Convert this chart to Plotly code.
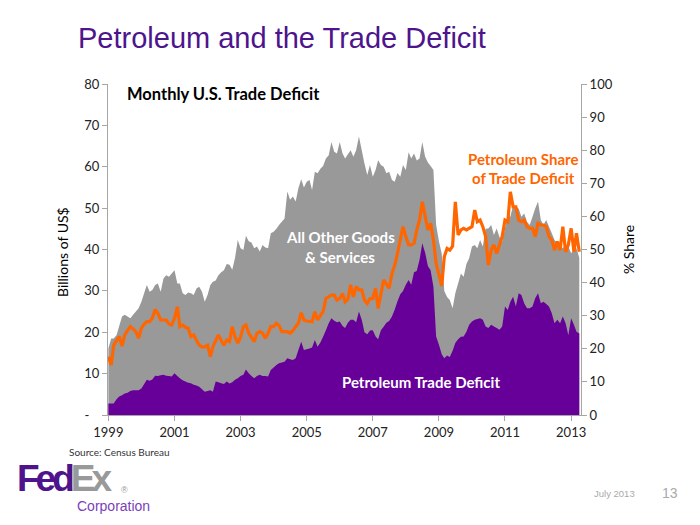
import plotly.graph_objects as go
import pandas as pd

# ---------------- data ----------------
months = pd.date_range("1999-01-01", periods=172, freq="MS")

total_deficit = [
    16.1, 18.5, 18.5, 19.3, 21.5, 23.8, 24.2, 23.8, 23.4, 24.2, 25.0, 25.8,   # 1999
    27.4, 29.5, 31.4, 29.8, 30.2, 31.4, 31.8, 29.8, 33.0, 33.8, 33.4, 34.2,   # 2000
    35.0, 31.8, 31.8, 29.4, 29.0, 29.6, 29.4, 29.0, 30.6, 31.0, 29.8, 27.4,   # 2001
    29.0, 31.4, 32.2, 32.5, 33.8, 34.5, 35.0, 36.5, 36.3, 35.1, 38.0, 42.3,   # 2002
    40.3, 39.9, 43.3, 42.0, 41.7, 40.3, 40.7, 39.5, 41.1, 40.5, 40.3, 43.9,   # 2003
    44.3, 45.0, 45.9, 46.7, 47.5, 54.0, 52.0, 52.8, 51.6, 54.8, 57.0, 55.0,   # 2004
    56.4, 56.8, 54.4, 58.8, 58.4, 59.5, 60.2, 62.0, 62.8, 66.0, 63.6, 63.2,   # 2005
    66.0, 63.2, 62.0, 63.0, 64.0, 62.4, 64.0, 67.3, 64.0, 60.8, 58.0, 60.4,   # 2006
    57.6, 59.2, 61.6, 60.4, 60.0, 58.4, 58.8, 56.8, 56.4, 58.5, 57.6, 60.4,   # 2007
    59.2, 63.5, 62.0, 63.2, 61.5, 62.0, 66.0, 62.5, 61.0, 60.2, 59.2, 46.0,   # 2008
    42.0, 39.0, 30.0, 28.5, 27.8, 25.8, 29.4, 31.8, 34.2, 33.4, 36.5, 37.9,   # 2009
    40.7, 41.1, 40.3, 42.3, 40.7, 45.0, 45.1, 45.9, 43.5, 45.1, 43.0, 41.9,   # 2010
    45.1, 48.3, 47.9, 50.7, 50.3, 49.9, 47.9, 48.7, 46.7, 45.9, 47.9, 49.9,   # 2011
    51.6, 47.1, 45.9, 47.1, 45.5, 43.9, 42.3, 41.5, 41.1, 40.3, 41.1, 40.7,   # 2012
    39.1, 40.0, 40.3, 38.0,                                                   # 2013
]

petroleum_deficit = [
    2.8, 2.8, 2.8, 3.8, 4.5, 4.8, 5.2, 5.4, 5.8, 6.0, 6.0, 6.0,               # 1999
    6.4, 7.5, 8.5, 8.3, 8.6, 9.5, 9.4, 9.6, 9.7, 9.5, 9.4, 9.3,               # 2000
    10.1, 9.4, 8.9, 8.4, 8.1, 7.8, 7.7, 7.3, 7.1, 6.8, 6.2, 5.6,              # 2001
    5.8, 6.0, 5.6, 8.1, 7.9, 7.7, 7.5, 8.1, 7.6, 7.9, 8.5, 8.9,               # 2002
    9.4, 9.7, 11.0, 10.1, 9.4, 8.9, 9.4, 9.7, 9.4, 9.4, 9.3, 10.9,            # 2003
    11.5, 12.1, 12.5, 12.7, 12.9, 13.7, 13.5, 13.3, 13.7, 15.7, 17.7, 15.7,   # 2004
    15.9, 16.1, 16.3, 18.1, 16.5, 17.5, 18.9, 20.5, 22.2, 23.4, 22.8, 22.4,   # 2005
    22.6, 21.5, 21.0, 22.3, 23.0, 23.0, 22.4, 25.0, 23.0, 20.0, 19.5, 20.4,   # 2006
    20.5, 19.0, 18.3, 20.5, 21.3, 22.3, 22.7, 23.8, 25.5, 27.5, 29.2, 30.0,   # 2007
    31.5, 32.6, 31.5, 34.5, 34.8, 37.5, 41.5, 39.3, 36.0, 35.0, 31.0, 19.0,   # 2008
    17.0, 14.7, 13.7, 14.4, 14.0, 15.5, 17.4, 18.3, 18.9, 19.0, 20.1, 21.8,   # 2009
    22.6, 23.0, 23.2, 23.4, 23.0, 21.4, 21.0, 21.8, 21.4, 21.0, 20.6, 21.4,   # 2010
    26.2, 25.4, 27.4, 28.6, 26.2, 29.4, 29.0, 27.0, 25.8, 25.8, 26.2, 28.2,   # 2011
    29.4, 27.0, 27.4, 26.8, 26.2, 24.6, 22.2, 23.0, 22.2, 23.8, 22.2, 19.3,   # 2012
    23.4, 21.8, 20.1, 19.7,                                                   # 2013
]

petroleum_share = [
    17.6, 15.1, 21.1, 22.5, 23.7, 20.8, 24.2, 25.5, 26.7, 26.0, 25.2, 23.2,   # 1999
    26.2, 27.5, 28.2, 28.2, 29.2, 31.9, 30.7, 28.7, 28.7, 28.7, 27.5, 27.2,   # 2000
    29.2, 32.7, 26.7, 27.2, 26.5, 26.2, 23.7, 24.2, 22.5, 21.1, 20.6, 20.6,   # 2001
    21.1, 17.6, 20.6, 22.5, 24.2, 22.5, 21.1, 22.6, 22.2, 26.7, 23.6, 21.7,   # 2002
    23.5, 26.7, 27.2, 24.7, 23.5, 22.2, 24.7, 25.2, 24.7, 23.2, 24.7, 26.7,   # 2003
    26.7, 27.7, 27.0, 25.2, 25.2, 25.2, 24.7, 25.5, 26.7, 27.7, 30.9, 28.7,   # 2004
    28.4, 28.2, 28.2, 31.2, 28.7, 30.0, 31.2, 35.2, 35.7, 36.2, 36.2, 34.7,   # 2005
    35.2, 36.7, 34.2, 35.0, 39.3, 35.7, 38.8, 37.8, 37.8, 34.7, 33.7, 35.2,   # 2006
    35.2, 38.3, 32.2, 36.7, 40.8, 39.5, 38.3, 42.8, 45.3, 48.8, 52.9, 56.9,   # 2007
    53.9, 51.4, 51.4, 51.9, 55.9, 58.9, 64.4, 60.4, 55.9, 57.9, 52.9, 45.8,   # 2008
    42.5, 39.0, 47.8, 50.3, 49.8, 51.0, 64.4, 54.4, 55.9, 56.4, 55.9, 56.4,   # 2009
    56.9, 61.9, 58.4, 58.9, 56.9, 53.9, 45.3, 49.8, 51.4, 48.8, 51.4, 53.9,   # 2010
    58.9, 58.4, 67.4, 62.9, 62.9, 58.9, 58.4, 58.9, 56.9, 56.4, 56.4, 53.9,   # 2011
    57.9, 57.4, 57.4, 56.9, 53.9, 52.9, 49.8, 52.4, 49.8, 56.9, 49.3, 51.4,   # 2012
    56.4, 49.3, 54.9, 49.3,                                                   # 2013
]

year_ticks = ["1999", "2001", "2003", "2005", "2007", "2009", "2011", "2013"]
left_ticks = [0, 10, 20, 30, 40, 50, 60, 70, 80]
left_tick_text = ["-\u00a0\u00a0\u00a0", "10", "20", "30", "40", "50", "60", "70", "80"]
right_ticks = [0, 10, 20, 30, 40, 50, 60, 70, 80, 90, 100]

# ---------------- styling ----------------
PURPLE = "#660099"
GRAY = "#999999"
ORANGE = "#FF6600"
AXIS = "#A6A6A6"
FONT = "Lato"

L, R, T, B = 108, 581, 84, 415
W, H = 700, 525


def px(x):
    return (x - L) / (R - L)


def py(y):
    return (B - y) / (B - T)


fig = go.Figure()
fig.add_trace(go.Scatter(x=months, y=total_deficit, mode="none", fill="tozeroy",
                         fillcolor=GRAY, name="All Other Goods & Services",
                         hoverinfo="skip"))
fig.add_trace(go.Scatter(x=months, y=petroleum_deficit, mode="none", fill="tozeroy",
                         fillcolor=PURPLE, name="Petroleum Trade Deficit",
                         hoverinfo="skip"))
fig.add_trace(go.Scatter(x=months, y=petroleum_share, mode="lines", yaxis="y2",
                         line=dict(color=ORANGE, width=3.2),
                         name="Petroleum Share of Trade Deficit"))

axis_common = dict(showline=True, linecolor=AXIS, linewidth=1, ticks="outside",
                   tickcolor=AXIS, ticklen=5, showgrid=False, zeroline=False,
                   tickfont=dict(family=FONT, size=13, color="#222222"))

fig.update_layout(
    width=W, height=H,
    margin=dict(l=L, r=W - R, t=T, b=H - B),
    paper_bgcolor="white", plot_bgcolor="white",
    showlegend=False,
    xaxis=dict(type="date", range=["1998-12-28", "2013-04-20"],
               tickvals=[f"{y}-01-01" for y in year_ticks], ticktext=year_ticks,
               **axis_common),
    yaxis=dict(range=[0, 80], tickvals=left_ticks, ticktext=left_tick_text,
               **axis_common),
    yaxis2=dict(range=[0, 100], tickvals=right_ticks, ticksuffix="%",
                overlaying="y", side="right", **axis_common),
)


def note(text, x, y, size=15, color="black", bold=False, family=FONT,
         xanchor="center", angle=0, **extra):
    fig.add_annotation(text=f"<b>{text}</b>" if bold else text,
                       x=px(x), y=py(y), xref="paper", yref="paper",
                       xanchor=xanchor, yanchor="middle", showarrow=False,
                       textangle=angle,
                       font=dict(family=family, size=size, color=color), **extra)


# slide title
note("Petroleum and the Trade Deficit", 76, 38, size=29, color="#4D148C",
     family="Liberation Sans", xanchor="left")
# chart texts
note("Monthly U.S. Trade Deficit", 125, 94, size=16.5, bold=True, xanchor="left")
note("All Other Goods", 340, 237, size=15, color="white", bold=True)
note("& Services", 340, 257, size=15, color="white", bold=True)
note("Petroleum Share", 523, 159, size=15, color=ORANGE, bold=True)
note("of Trade Deficit", 523, 178, size=15, color=ORANGE, bold=True)
note("Petroleum Trade Deficit", 421, 382, size=15, color="white", bold=True)
# axis titles
note("Billions of US$", 62, 252, size=14, angle=-90)
note("% Share", 628, 250, size=14, angle=-90)
# footer
note("Source: Census Bureau", 67, 452, size=10, color="#333333", xanchor="left")
note("<b><span style='color:#4D148C;letter-spacing:-4px'>Fed</span>"
     "<span style='color:#999999;letter-spacing:-4px'>Ex</span></b>",
     15, 478, size=37, family="Liberation Sans", xanchor="left")
note("®", 124, 490, size=9, color="#999999", family="Liberation Sans")
note("Corporation", 75, 506, size=14, color="#7B3FB8", family="Liberation Sans",
     xanchor="left")
note("July 2013", 592, 493, size=9.5, color="#AAAAAA", family="Liberation Sans",
     xanchor="left")
note("13", 670, 493, size=14, color="#AAAAAA", family="Liberation Sans")

fig.write_html("out.html", config={"displayModeBar": False},
               post_script="document.body.style.margin='0';")
